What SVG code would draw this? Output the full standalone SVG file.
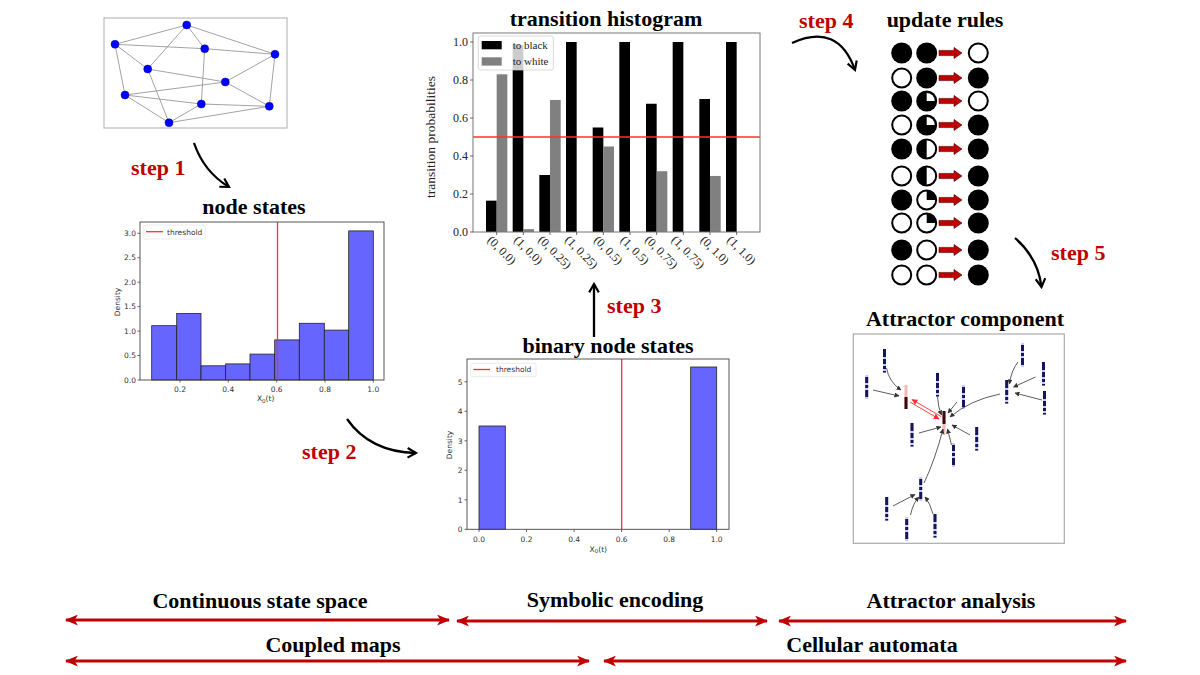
<svg xmlns="http://www.w3.org/2000/svg" xmlns:xlink="http://www.w3.org/1999/xlink" width="1200" height="675" viewBox="0 0 1200 675">
<style>
.title{font-family:"Liberation Serif",serif;font-weight:bold;font-size:22px;fill:#000}
.step{font-family:"Liberation Serif",serif;font-weight:bold;font-size:22px;fill:#c00000}
.tk{font-family:"DejaVu Sans",sans-serif;font-size:7.5px;fill:#333}
.tks{font-family:"Liberation Serif",serif;font-size:12px;fill:#222}
.lg{font-family:"Liberation Serif",serif;font-size:11px;fill:#222}
.yl{font-family:"Liberation Serif",serif;font-size:13.5px;fill:#222}
.frame{fill:none;stroke:#444;stroke-width:0.9}
.bar{fill:#6666ff;stroke:#222;stroke-width:0.8}
.edge{stroke:#999;stroke-width:0.9}
.gn{fill:#0000ff;stroke:#0000aa;stroke-width:0.5}
.thr{stroke:#ff3030;stroke-width:1.3}
.sarrow{fill:none;stroke:#000;stroke-width:2.3}
.red{fill:none;stroke:#c00000;stroke-width:3}
.wc{fill:#fff;stroke:#000;stroke-width:2}
.bc{fill:#000}
.ra{fill:#c00000;stroke:#400;stroke-width:0.6}
.ac{fill:none;stroke:#333;stroke-width:0.8}
.ar{fill:none;stroke:#ff3030;stroke-width:0.9}
.tick{stroke:#444;stroke-width:0.8}
</style>
<defs>
<marker id="chev" viewBox="0 0 10 10" refX="8" refY="5" markerWidth="12" markerHeight="12" markerUnits="userSpaceOnUse" orient="auto">
<path d="M1,1 L8,5 L1,9" fill="none" stroke="#000" stroke-width="1.8"/>
</marker>
<marker id="rh" viewBox="0 0 12 10" refX="11" refY="5" markerWidth="13" markerHeight="11" markerUnits="userSpaceOnUse" orient="auto-start-reverse">
<path d="M0,0 L12,5 L0,10 L3,5 Z" fill="#c00000"/>
</marker>
<marker id="sa" viewBox="0 0 10 10" refX="9" refY="5" markerWidth="5" markerHeight="5" markerUnits="userSpaceOnUse" orient="auto">
<path d="M0,0 L10,5 L0,10 Z" fill="#333"/>
</marker>
<marker id="sr" viewBox="0 0 10 10" refX="9" refY="5" markerWidth="6" markerHeight="6" markerUnits="userSpaceOnUse" orient="auto">
<path d="M0,0 L10,5 L0,10 Z" fill="#ff3030"/>
</marker>
<g id="nb"><rect width="3" height="24" fill="#c9c9f2"/><rect width="3" height="8" fill="#15155a"/><rect y="10" width="3" height="5" fill="#15155a"/><rect y="17" width="3" height="3" fill="#15155a"/><rect y="22" width="3" height="1.5" fill="#15155a"/></g>
<g id="nb2"><rect width="3" height="24" fill="#c9c9f2"/><rect y="2" width="3" height="6" fill="#15155a"/><rect y="10" width="3" height="3" fill="#15155a"/><rect y="15" width="3" height="7" fill="#15155a"/></g>
<g id="rb1"><rect width="3" height="24" fill="#f4b8b8"/><rect y="12" width="3" height="12" fill="#3a0808"/></g>
<g id="rb2"><rect width="3" height="24" fill="#f4b8b8"/><rect width="3" height="13" fill="#3a0808"/></g>
<path id="arr" d="M0,-2.6 L15,-2.6 L15,-5.5 L23,0 L15,5.5 L15,2.6 L0,2.6 Z"/>
</defs>

<g id="network-graph">
<rect x="104" y="18" width="183" height="110" fill="#fff" stroke="#bbb" stroke-width="1.2"/>
<g>
<line class="edge" x1="186.7" y1="25" x2="115" y2="44.3"/>
<line class="edge" x1="186.7" y1="25" x2="204.7" y2="48.7"/>
<line class="edge" x1="186.7" y1="25" x2="275" y2="54.3"/>
<line class="edge" x1="186.7" y1="25" x2="147.7" y2="69"/>
<line class="edge" x1="115" y1="44.3" x2="204.7" y2="48.7"/>
<line class="edge" x1="204.7" y1="48.7" x2="275" y2="54.3"/>
<line class="edge" x1="115" y1="44.3" x2="147.7" y2="69"/>
<line class="edge" x1="115" y1="44.3" x2="125" y2="95"/>
<line class="edge" x1="147.7" y1="69" x2="225.3" y2="82"/>
<line class="edge" x1="147.7" y1="69" x2="169" y2="122.7"/>
<line class="edge" x1="204.7" y1="48.7" x2="201.3" y2="104"/>
<line class="edge" x1="225.3" y1="82" x2="275" y2="54.3"/>
<line class="edge" x1="225.3" y1="82" x2="269.3" y2="106.3"/>
<line class="edge" x1="125" y1="95" x2="225.3" y2="82"/>
<line class="edge" x1="125" y1="95" x2="201.3" y2="104"/>
<line class="edge" x1="201.3" y1="104" x2="269.3" y2="106.3"/>
<line class="edge" x1="125" y1="95" x2="169" y2="122.7"/>
<line class="edge" x1="169" y1="122.7" x2="201.3" y2="104"/>
<line class="edge" x1="169" y1="122.7" x2="269.3" y2="106.3"/>
<line class="edge" x1="275" y1="54.3" x2="269.3" y2="106.3"/>
</g>
<circle class="gn" cx="186.7" cy="25" r="4"/>
<circle class="gn" cx="115" cy="44.3" r="4"/>
<circle class="gn" cx="204.7" cy="48.7" r="4"/>
<circle class="gn" cx="275" cy="54.3" r="4"/>
<circle class="gn" cx="147.7" cy="69" r="4"/>
<circle class="gn" cx="225.3" cy="82" r="4"/>
<circle class="gn" cx="125" cy="95" r="4"/>
<circle class="gn" cx="201.3" cy="104" r="4"/>
<circle class="gn" cx="269.3" cy="106.3" r="4"/>
<circle class="gn" cx="169" cy="122.7" r="4"/>
</g>

<g id="node-states">
<text class="title" x="254" y="214" text-anchor="middle">node states</text>
<rect x="140" y="222" width="244" height="158" fill="#fff"/>
<rect class="bar" x="151.7" y="325.7" width="25" height="54.3"/>
<rect class="bar" x="176.7" y="313.5" width="24.3" height="66.5"/>
<rect class="bar" x="201" y="365.8" width="24.7" height="14.2"/>
<rect class="bar" x="225.7" y="363.9" width="24.3" height="16.1"/>
<rect class="bar" x="250" y="354.1" width="24.7" height="25.9"/>
<rect class="bar" x="274.7" y="339.9" width="24.6" height="40.1"/>
<rect class="bar" x="299.3" y="323.3" width="25" height="56.7"/>
<rect class="bar" x="324.3" y="330.1" width="24.4" height="49.9"/>
<rect class="bar" x="348.7" y="230.9" width="24.6" height="149.1"/>
<line class="thr" x1="277.5" y1="222" x2="277.5" y2="380"/>
<rect class="frame" x="140" y="222" width="244" height="158"/>
<rect x="143.3" y="225" width="62" height="14" rx="2" fill="#fff" fill-opacity="0.85" stroke="#ddd" stroke-width="0.6"/>
<line class="thr" x1="146" y1="231.7" x2="163" y2="231.7"/>
<text class="tk" x="167" y="234.5">threshold</text>
<g class="tick">
<line x1="137.5" y1="380" x2="140" y2="380"/><line x1="137.5" y1="355.5" x2="140" y2="355.5"/><line x1="137.5" y1="331.1" x2="140" y2="331.1"/><line x1="137.5" y1="306.6" x2="140" y2="306.6"/><line x1="137.5" y1="282.2" x2="140" y2="282.2"/><line x1="137.5" y1="257.7" x2="140" y2="257.7"/><line x1="137.5" y1="233.3" x2="140" y2="233.3"/>
<line x1="180" y1="380" x2="180" y2="382.5"/><line x1="228.3" y1="380" x2="228.3" y2="382.5"/><line x1="276.7" y1="380" x2="276.7" y2="382.5"/><line x1="325" y1="380" x2="325" y2="382.5"/><line x1="373.3" y1="380" x2="373.3" y2="382.5"/>
</g>
<g class="tk" text-anchor="end">
<text x="136" y="382.6">0.0</text><text x="136" y="358.1">0.5</text><text x="136" y="333.7">1.0</text><text x="136" y="309.2">1.5</text><text x="136" y="284.8">2.0</text><text x="136" y="260.3">2.5</text><text x="136" y="235.9">3.0</text>
</g>
<g class="tk" text-anchor="middle">
<text x="180" y="391.5">0.2</text><text x="228.3" y="391.5">0.4</text><text x="276.7" y="391.5">0.6</text><text x="325" y="391.5">0.8</text><text x="373.3" y="391.5">1.0</text>
<text x="265.7" y="401">X<tspan style="font-size:5.5px" dy="1.5">0</tspan><tspan dy="-1.5">(t)</tspan></text>
<text transform="translate(120,302) rotate(-90)">Density</text>
</g>
</g>

<g id="transition-histogram">
<text class="title" x="606" y="26" text-anchor="middle">transition histogram</text>
<rect x="473" y="33" width="287" height="199" fill="#fff"/>
<g fill="#000">
<rect x="486" y="200.65" width="10.67" height="31.35"/>
<rect x="512.67" y="44.85" width="10.67" height="187.15"/>
<rect x="539.33" y="175" width="10.67" height="57"/>
<rect x="566" y="42" width="10.67" height="190"/>
<rect x="592.67" y="127.5" width="10.67" height="104.5"/>
<rect x="619.33" y="42" width="10.67" height="190"/>
<rect x="646" y="103.75" width="10.67" height="128.25"/>
<rect x="672.67" y="42" width="10.67" height="190"/>
<rect x="699.33" y="99" width="10.67" height="133"/>
<rect x="726" y="42" width="10.67" height="190"/>
</g>
<g fill="#808080">
<rect x="496.67" y="74.3" width="10.67" height="157.7"/>
<rect x="523.33" y="229.15" width="10.67" height="2.85"/>
<rect x="550" y="99.95" width="10.67" height="132.05"/>
<rect x="603.33" y="146.5" width="10.67" height="85.5"/>
<rect x="656.67" y="171.2" width="10.67" height="60.8"/>
<rect x="710" y="175.95" width="10.67" height="56.05"/>
</g>
<line class="thr" x1="473" y1="137" x2="760" y2="137"/>
<rect x="473" y="33" width="287" height="199" fill="none" stroke="#777" stroke-width="1"/>
<rect x="478.3" y="36" width="75" height="34" rx="2" fill="#fff" fill-opacity="0.8" stroke="#ccc" stroke-width="0.7"/>
<rect x="481.7" y="41" width="20" height="8.3" fill="#000"/>
<rect x="481.7" y="57.3" width="20" height="8.3" fill="#808080"/>
<text class="lg" x="512.7" y="48.8">to black</text>
<text class="lg" x="512.7" y="65">to white</text>
<g class="tick">
<line x1="470" y1="232" x2="473" y2="232"/><line x1="470" y1="194" x2="473" y2="194"/><line x1="470" y1="156" x2="473" y2="156"/><line x1="470" y1="118" x2="473" y2="118"/><line x1="470" y1="80" x2="473" y2="80"/><line x1="470" y1="42" x2="473" y2="42"/>
<line x1="496.67" y1="232" x2="496.67" y2="235"/><line x1="523.33" y1="232" x2="523.33" y2="235"/><line x1="550" y1="232" x2="550" y2="235"/><line x1="576.67" y1="232" x2="576.67" y2="235"/><line x1="603.33" y1="232" x2="603.33" y2="235"/><line x1="630" y1="232" x2="630" y2="235"/><line x1="656.67" y1="232" x2="656.67" y2="235"/><line x1="683.33" y1="232" x2="683.33" y2="235"/><line x1="710" y1="232" x2="710" y2="235"/><line x1="736.67" y1="232" x2="736.67" y2="235"/>
</g>
<g class="tks" text-anchor="end">
<text x="468" y="236">0.0</text><text x="468" y="198">0.2</text><text x="468" y="160">0.4</text><text x="468" y="122">0.6</text><text x="468" y="84">0.8</text><text x="468" y="46">1.0</text>
</g>
<text class="yl" text-anchor="middle" transform="translate(435,137) rotate(-90)">transition probabilities</text>
<g class="tks" text-anchor="middle">
<text transform="translate(499,253) rotate(45)">(0, 0.0)</text>
<text transform="translate(525.5,253) rotate(45)">(1, 0.0)</text>
<text transform="translate(552,255) rotate(45)">(0, 0.25)</text>
<text transform="translate(578.7,255) rotate(45)">(1, 0.25)</text>
<text transform="translate(605.5,253) rotate(45)">(0, 0.5)</text>
<text transform="translate(632,253) rotate(45)">(1, 0.5)</text>
<text transform="translate(658.7,255) rotate(45)">(0, 0.75)</text>
<text transform="translate(685.3,255) rotate(45)">(1, 0.75)</text>
<text transform="translate(712,253) rotate(45)">(0, 1.0)</text>
<text transform="translate(738.7,253) rotate(45)">(1, 1.0)</text>
</g>
</g>

<g id="update-rules">
<text class="title" x="945" y="27" text-anchor="middle">update rules</text>
<circle class="bc" cx="901.7" cy="53" r="10.5"/><circle class="bc" cx="926.7" cy="53" r="10.5"/><use href="#arr" class="ra" transform="translate(939,53)"/><circle class="wc" cx="978.3" cy="53" r="9.5"/>
<circle class="wc" cx="901.7" cy="78" r="9.5"/><circle class="bc" cx="926.7" cy="78" r="10.5"/><use href="#arr" class="ra" transform="translate(939,78)"/><circle class="bc" cx="978.3" cy="78" r="10.5"/>
<circle class="bc" cx="901.7" cy="101" r="10.5"/><circle class="bc" cx="926.7" cy="101" r="10.5"/><path d="M926.7,101 L926.7,93 A8,8 0 0 1 934.7,101 Z" fill="#fff"/><use href="#arr" class="ra" transform="translate(939,101)"/><circle class="wc" cx="978.3" cy="101" r="9.5"/>
<circle class="wc" cx="901.7" cy="125" r="9.5"/><circle class="bc" cx="926.7" cy="125" r="10.5"/><path d="M926.7,125 L926.7,117 A8,8 0 0 1 934.7,125 Z" fill="#fff"/><use href="#arr" class="ra" transform="translate(939,125)"/><circle class="bc" cx="978.3" cy="125" r="10.5"/>
<circle class="bc" cx="901.7" cy="149" r="10.5"/><circle class="wc" cx="926.7" cy="149" r="9.5"/><path d="M926.7,139.5 A9.5,9.5 0 0 0 926.7,158.5 Z" fill="#000"/><use href="#arr" class="ra" transform="translate(939,149)"/><circle class="bc" cx="978.3" cy="149" r="10.5"/>
<circle class="wc" cx="901.7" cy="176" r="9.5"/><circle class="wc" cx="926.7" cy="176" r="9.5"/><path d="M926.7,166.5 A9.5,9.5 0 0 0 926.7,185.5 Z" fill="#000"/><use href="#arr" class="ra" transform="translate(939,176)"/><circle class="bc" cx="978.3" cy="176" r="10.5"/>
<circle class="bc" cx="901.7" cy="200" r="10.5"/><circle class="wc" cx="926.7" cy="200" r="9.5"/><path d="M926.7,200 L926.7,190.5 A9.5,9.5 0 0 1 936.2,200 Z" fill="#000"/><use href="#arr" class="ra" transform="translate(939,200)"/><circle class="bc" cx="978.3" cy="200" r="10.5"/>
<circle class="wc" cx="901.7" cy="223" r="9.5"/><circle class="wc" cx="926.7" cy="223" r="9.5"/><path d="M926.7,223 L926.7,213.5 A9.5,9.5 0 0 1 936.2,223 Z" fill="#000"/><use href="#arr" class="ra" transform="translate(939,223)"/><circle class="bc" cx="978.3" cy="223" r="10.5"/>
<circle class="bc" cx="901.7" cy="250" r="10.5"/><circle class="wc" cx="926.7" cy="250" r="9.5"/><use href="#arr" class="ra" transform="translate(939,250)"/><circle class="bc" cx="978.3" cy="250" r="10.5"/>
<circle class="wc" cx="901.7" cy="275" r="9.5"/><circle class="wc" cx="926.7" cy="275" r="9.5"/><use href="#arr" class="ra" transform="translate(939,275)"/><circle class="bc" cx="978.3" cy="275" r="10.5"/>
</g>

<g id="binary-node-states">
<text class="title" x="608" y="353" text-anchor="middle">binary node states</text>
<rect x="467" y="359" width="262" height="170" fill="#fff"/>
<rect class="bar" x="479" y="426" width="26.3" height="103.3"/>
<rect class="bar" x="690.7" y="367" width="26" height="162.3"/>
<line class="thr" x1="621.7" y1="359" x2="621.7" y2="529.3"/>
<rect class="frame" x="467" y="359" width="262" height="170.3"/>
<rect x="470.7" y="363.3" width="65.3" height="13.4" rx="2" fill="#fff" fill-opacity="0.85" stroke="#ddd" stroke-width="0.6"/>
<line class="thr" x1="473.3" y1="369.5" x2="490" y2="369.5"/>
<text class="tk" x="496" y="372.3">threshold</text>
<g class="tick">
<line x1="464.5" y1="529.3" x2="467" y2="529.3"/><line x1="464.5" y1="499.8" x2="467" y2="499.8"/><line x1="464.5" y1="470.3" x2="467" y2="470.3"/><line x1="464.5" y1="440.8" x2="467" y2="440.8"/><line x1="464.5" y1="411.3" x2="467" y2="411.3"/><line x1="464.5" y1="381.8" x2="467" y2="381.8"/>
<line x1="479" y1="529.3" x2="479" y2="532"/><line x1="526.5" y1="529.3" x2="526.5" y2="532"/><line x1="574.1" y1="529.3" x2="574.1" y2="532"/><line x1="621.6" y1="529.3" x2="621.6" y2="532"/><line x1="669.2" y1="529.3" x2="669.2" y2="532"/><line x1="716.7" y1="529.3" x2="716.7" y2="532"/>
</g>
<g class="tk" text-anchor="end">
<text x="462.5" y="532">0</text><text x="462.5" y="502.5">1</text><text x="462.5" y="473">2</text><text x="462.5" y="443.5">3</text><text x="462.5" y="414">4</text><text x="462.5" y="384.5">5</text>
</g>
<g class="tk" text-anchor="middle">
<text x="479" y="541.5">0.0</text><text x="526.5" y="541.5">0.2</text><text x="574.1" y="541.5">0.4</text><text x="621.6" y="541.5">0.6</text><text x="669.2" y="541.5">0.8</text><text x="716.7" y="541.5">1.0</text>
<text x="598.3" y="551.5">X<tspan style="font-size:5.5px" dy="1.5">0</tspan><tspan dy="-1.5">(t)</tspan></text>
<text transform="translate(452,445) rotate(-90)">Density</text>
</g>
</g>

<g id="attractor-component">
<text class="title" x="965" y="326" text-anchor="middle">Attractor component</text>
<rect x="853.3" y="334" width="211" height="209.3" fill="#fff" stroke="#aaa" stroke-width="1.2"/>
<use href="#nb" x="883" y="349"/>
<use href="#nb2" x="865.2" y="375"/>
<use href="#rb1" x="904.5" y="385"/>
<use href="#nb" x="936" y="373"/>
<use href="#nb2" x="962" y="385"/>
<use href="#rb2" x="942.5" y="411"/>
<use href="#nb" x="910.5" y="423"/>
<use href="#nb" x="975.2" y="427"/>
<use href="#nb2" x="952" y="443"/>
<use href="#nb" x="1005.2" y="380"/>
<use href="#nb2" x="1021" y="343"/>
<use href="#nb" x="1042" y="362"/>
<use href="#nb" x="1043" y="391"/>
<use href="#nb2" x="919.2" y="477"/>
<use href="#nb" x="885.2" y="497"/>
<use href="#nb2" x="905.2" y="517"/>
<use href="#nb" x="933.5" y="514"/>
</g>

<g id="connectors">
<g class="ac" marker-end="url(#sa)">
<path d="M886.5,368 Q889,382 901,390"/>
<path d="M873,390 L899,396"/>
<path d="M937.5,397 Q938,407 941.5,415"/>
<path d="M957,402 L948,413"/>
<path d="M1000,394 Q970,400 950,417"/>
<path d="M919,433 L941,427"/>
<path d="M970,435 L952,425"/>
<path d="M951.5,445 L947.5,429"/>
<path d="M924,483 Q935,460 943,429"/>
<path d="M1018,362 Q1011,371 1009.5,384"/>
<path d="M1035.5,377 L1013.5,387"/>
<path d="M1042,400 L1015,393"/>
<path d="M893,506 L915,494.5"/>
<path d="M910.5,515 Q913,503 919,497"/>
<path d="M933,514 Q930,503 925,497"/>
</g>
<path class="ar" d="M910,402 L939,419" marker-end="url(#sr)"/>
<path class="ar" d="M941,416.5 L912,399.5" marker-end="url(#sr)"/>
<path class="sarrow" d="M194,143 Q204,172 229,187" marker-end="url(#chev)"/>
<path class="sarrow" d="M347,419 Q370,452 416,453" marker-end="url(#chev)"/>
<path class="sarrow" d="M594,337 L594,284" marker-end="url(#chev)"/>
<path class="sarrow" d="M792,43 Q838,22 855,70" marker-end="url(#chev)"/>
<path class="sarrow" d="M1015,238 Q1038,258 1041.5,287" marker-end="url(#chev)"/>
<line class="red" x1="66" y1="620" x2="449" y2="620" marker-start="url(#rh)" marker-end="url(#rh)"/>
<line class="red" x1="457" y1="621" x2="767" y2="621" marker-start="url(#rh)" marker-end="url(#rh)"/>
<line class="red" x1="779" y1="621" x2="1126" y2="621" marker-start="url(#rh)" marker-end="url(#rh)"/>
<line class="red" x1="66" y1="661" x2="589" y2="661" marker-start="url(#rh)" marker-end="url(#rh)"/>
<line class="red" x1="604" y1="661" x2="1126" y2="661" marker-start="url(#rh)" marker-end="url(#rh)"/>
</g>

<g id="labels">
<text class="step" x="131" y="175">step 1</text>
<text class="step" x="302" y="459">step 2</text>
<text class="step" x="607" y="313">step 3</text>
<text class="step" x="799" y="28">step 4</text>
<text class="step" x="1051" y="260">step 5</text>
<text class="title" x="260" y="608" text-anchor="middle">Continuous state space</text>
<text class="title" x="615" y="607" text-anchor="middle">Symbolic encoding</text>
<text class="title" x="951" y="608" text-anchor="middle">Attractor analysis</text>
<text class="title" x="333" y="652" text-anchor="middle">Coupled maps</text>
<text class="title" x="872" y="652" text-anchor="middle">Cellular automata</text>
</g>
</svg>
